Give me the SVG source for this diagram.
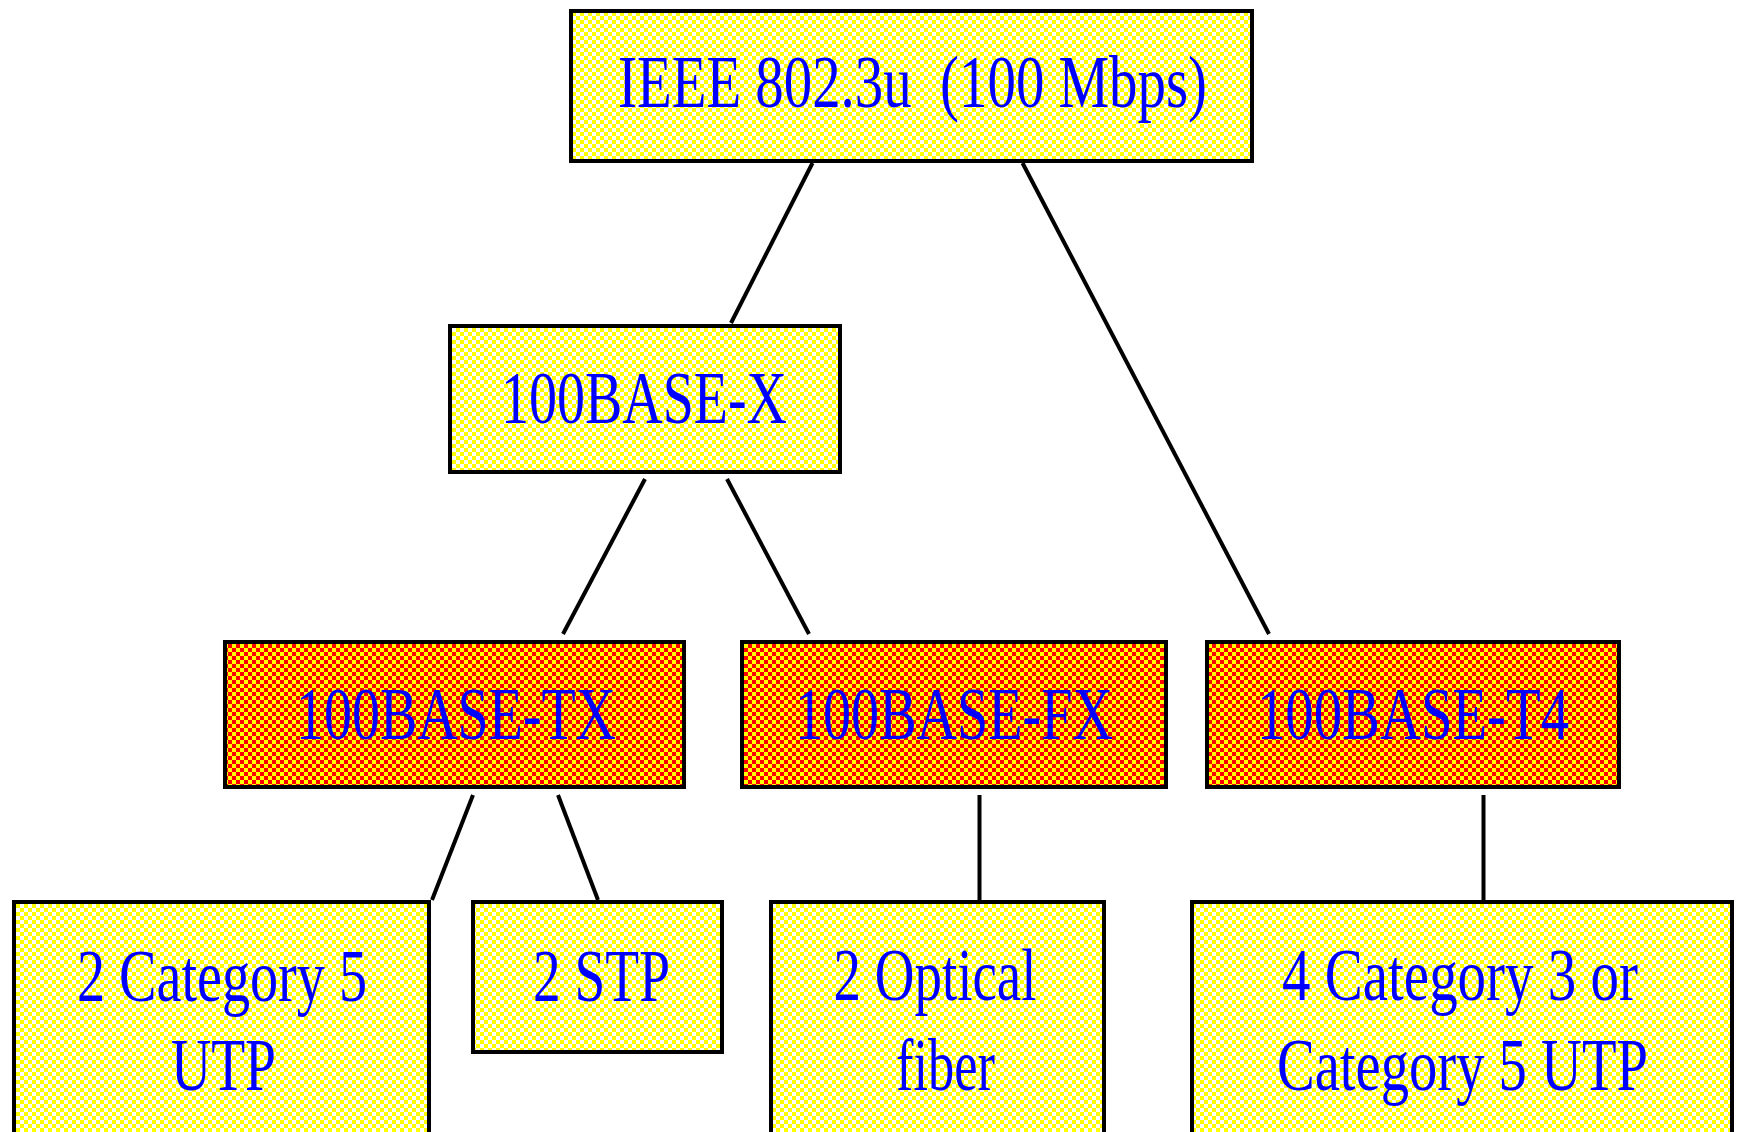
<svg xmlns="http://www.w3.org/2000/svg" width="1737" height="1132" viewBox="0 0 1737 1132">
  <defs>
    <pattern id="yw" patternUnits="userSpaceOnUse" width="8" height="8">
      <rect width="8" height="8" fill="#FFFFFF"/>
      <rect x="0" y="0" width="4" height="4" fill="#FFFF00"/>
      <rect x="4" y="4" width="4" height="4" fill="#FFFF00"/>
    </pattern>
    <pattern id="ry" patternUnits="userSpaceOnUse" width="8" height="8">
      <rect width="8" height="8" fill="#FFFF00"/>
      <rect x="0" y="0" width="4" height="4" fill="#FF0000"/>
      <rect x="4" y="4" width="4" height="4" fill="#FF0000"/>
    </pattern>
  </defs>
  <style>
    .box { stroke: #000000; stroke-width: 4; shape-rendering: crispEdges; }
    .light { fill: url(#yw); }
    .dark { fill: url(#ry); }
    .lbl { font-family: "Liberation Serif", "Times New Roman", serif; font-size: 75px; fill: #0000FF; text-anchor: middle; }
    .conn { stroke: #000000; stroke-width: 4; fill: none; }
  </style>
  <rect width="1737" height="1132" fill="#FFFFFF"/>

  <g id="connectors">
    <line class="conn" x1="812.5" y1="163" x2="731" y2="323"/>
    <line class="conn" x1="1022.5" y1="163" x2="1269" y2="634"/>
    <line class="conn" x1="645" y1="479" x2="563" y2="634"/>
    <line class="conn" x1="727" y1="479" x2="809" y2="634"/>
    <line class="conn" x1="473" y1="795" x2="432" y2="900"/>
    <line class="conn" x1="558" y1="795" x2="598" y2="900"/>
    <line class="conn" x1="979.5" y1="795" x2="979.5" y2="900"/>
    <line class="conn" x1="1483.5" y1="795" x2="1483.5" y2="900"/>
  </g>

  <g id="node-ieee">
    <rect class="box light" x="571" y="11" width="681" height="150"/>
    <text class="lbl" x="912.5" y="107" textLength="589" lengthAdjust="spacingAndGlyphs" xml:space="preserve">IEEE 802.3u  (100 Mbps)</text>
  </g>

  <g id="node-100base-x">
    <rect class="box light" x="450" y="326" width="390" height="146"/>
    <text class="lbl" x="644" y="423" textLength="286" lengthAdjust="spacingAndGlyphs">100BASE-X</text>
  </g>

  <g id="node-100base-tx">
    <rect class="box dark" x="224.5" y="642" width="459" height="145"/>
    <text class="lbl" x="456" y="739" textLength="320" lengthAdjust="spacingAndGlyphs">100BASE-TX</text>
  </g>

  <g id="node-100base-fx">
    <rect class="box dark" x="742" y="642" width="424" height="145"/>
    <text class="lbl" x="954" y="739" textLength="318" lengthAdjust="spacingAndGlyphs">100BASE-FX</text>
  </g>

  <g id="node-100base-t4">
    <rect class="box dark" x="1207" y="642" width="412" height="145"/>
    <text class="lbl" x="1413" y="739" textLength="312" lengthAdjust="spacingAndGlyphs">100BASE-T4</text>
  </g>

  <g id="node-2cat5">
    <rect class="box light" x="14" y="902" width="415" height="260"/>
    <text class="lbl" x="222" y="1001" textLength="290" lengthAdjust="spacingAndGlyphs">2 Category 5</text>
    <text class="lbl" x="223.5" y="1090" textLength="105" lengthAdjust="spacingAndGlyphs">UTP</text>
  </g>

  <g id="node-2stp">
    <rect class="box light" x="473" y="902" width="249" height="150"/>
    <text class="lbl" x="601.5" y="1001" textLength="137" lengthAdjust="spacingAndGlyphs">2 STP</text>
  </g>

  <g id="node-optical">
    <rect class="box light" x="771" y="902" width="333" height="260"/>
    <text class="lbl" x="935" y="1000" textLength="203" lengthAdjust="spacingAndGlyphs">2 Optical</text>
    <text class="lbl" x="945.5" y="1090" textLength="99" lengthAdjust="spacingAndGlyphs">fiber</text>
  </g>

  <g id="node-4cat">
    <rect class="box light" x="1192" y="902" width="540" height="260"/>
    <text class="lbl" x="1460" y="1000" textLength="356" lengthAdjust="spacingAndGlyphs">4 Category 3 or</text>
    <text class="lbl" x="1462.5" y="1090" textLength="371" lengthAdjust="spacingAndGlyphs">Category 5 UTP</text>
  </g>
</svg>
